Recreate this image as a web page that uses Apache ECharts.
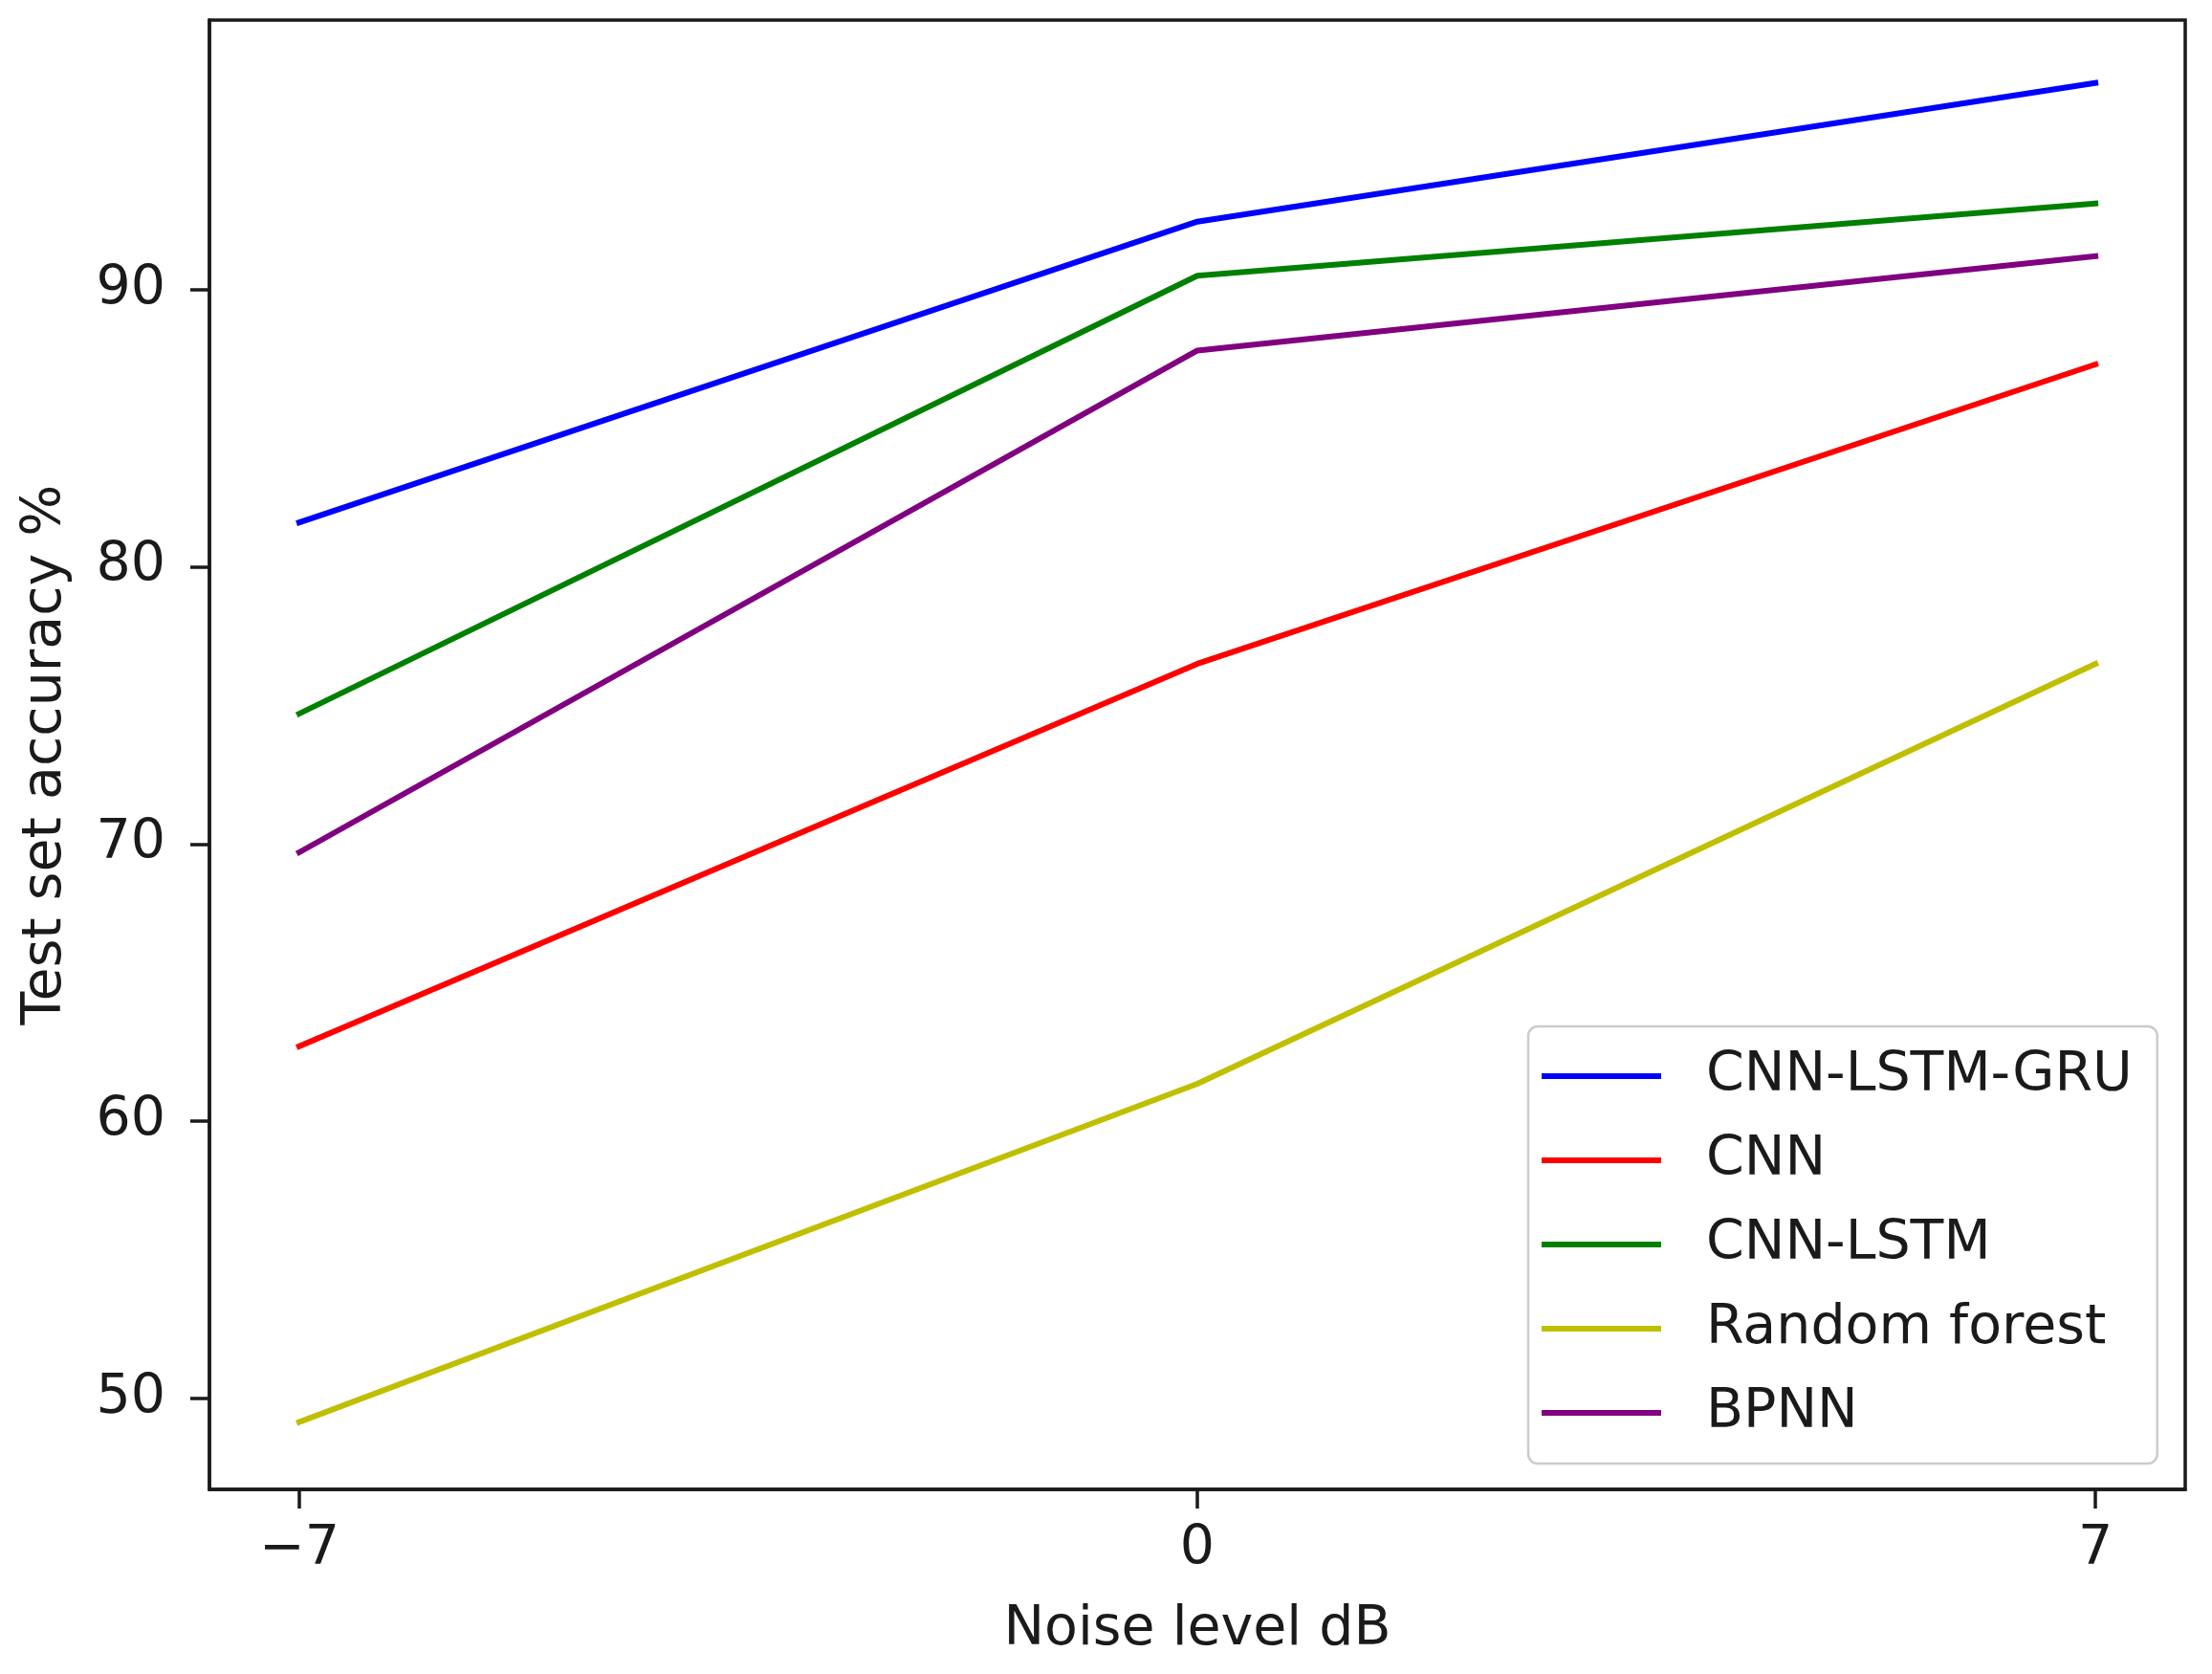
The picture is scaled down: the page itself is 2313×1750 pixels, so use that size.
<!DOCTYPE html>
<html>
<head>
<meta charset="utf-8">
<script src="https://cdn.jsdelivr.net/npm/echarts@6/dist/echarts.min.js"></script>
<style>
html,body{margin:0;padding:0;background:#fff;}
#chart{width:2313px;height:1750px;}
</style>
</head>
<body>
<div id="chart"></div>
<script>
const noiseLevels = [-7, 0, 7];
const xTicks = [-7, 0, 7];
const yTicks = [50, 60, 70, 80, 90];
const seriesNames = ['CNN-LSTM-GRU', 'CNN', 'CNN-LSTM', 'Random forest', 'BPNN'];
const cnnLstmGru = [81.6, 92.45, 97.45];
const cnn = [62.7, 76.5, 87.3];
const cnnLstm = [74.7, 90.5, 93.1];
const randomForest = [49.15, 61.35, 76.5];
const bpnn = [69.7, 87.8, 91.2];
const seriesColors = ['#0000ff', '#ff0000', '#008000', '#bfbf00', '#800080'];
const seriesValues = [cnnLstmGru, cnn, cnnLstm, randomForest, bpnn];

const FONT = 'DejaVu Sans';
const chart = echarts.init(document.getElementById('chart'), null, {renderer: 'canvas'});

const series = seriesNames.map((name, i) => ({
  name: name,
  type: 'line',
  symbol: 'none',
  data: noiseLevels.map((x, j) => [x, seriesValues[i][j]]),
  lineStyle: {color: seriesColors[i], width: 6, cap: 'square'},
  itemStyle: {color: seriesColors[i]},
  emphasis: {disabled: true},
  animation: false
}));

const minusFmt = v => (v < 0 ? '\u2212' + Math.abs(v) : String(v));

chart.setOption({
  animation: false,
  backgroundColor: '#ffffff',
  grid: {
    left: 219, right: 28, top: 21, bottom: 193,
    show: true, borderColor: '#1a1a1a', borderWidth: 3.5, backgroundColor: 'transparent'
  },
  xAxis: {
    type: 'value', min: -7.7, max: 7.7,
    name: 'Noise level dB', nameLocation: 'middle', nameGap: 119,
    nameTextStyle: {fontFamily: FONT, fontSize: 57, color: '#1a1a1a'},
    axisLine: {show: true, onZero: false, lineStyle: {color: '#1a1a1a', width: 3.5}},
    axisTick: {show: true, customValues: xTicks, length: 20, lineStyle: {color: '#1a1a1a', width: 3.5}},
    axisLabel: {customValues: xTicks, formatter: minusFmt, fontFamily: FONT, fontSize: 57, color: '#1a1a1a', margin: 35},
    splitLine: {show: false}
  },
  yAxis: {
    type: 'value', min: 46.72, max: 99.72,
    name: 'Test set accuracy %', nameLocation: 'middle', nameGap: 142, nameRotate: 90,
    nameTextStyle: {fontFamily: FONT, fontSize: 57, color: '#1a1a1a'},
    axisLine: {show: true, onZero: false, lineStyle: {color: '#1a1a1a', width: 3.5}},
    axisTick: {show: true, customValues: yTicks, length: 20, lineStyle: {color: '#1a1a1a', width: 3.5}},
    axisLabel: {customValues: yTicks, fontFamily: FONT, fontSize: 57, color: '#1a1a1a', margin: 46},
    splitLine: {show: false}
  },
  legend: {
    show: true,
    orient: 'vertical',
    left: 1598, top: 1073,
    padding: [23, 26, 24, 14],
    itemGap: 30,
    itemWidth: 125, itemHeight: 6,
    icon: 'rect',
    borderColor: '#cccccc', borderWidth: 2.5, borderRadius: 10,
    backgroundColor: 'rgba(255,255,255,0.8)',
    textStyle: {fontFamily: FONT, fontSize: 57, color: '#1a1a1a', lineHeight: 58, padding: [0, 0, 0, 42]},
    data: seriesNames.map((n, i) => ({name: n, itemStyle: {color: seriesColors[i]}}))
  },
  series: series
});
</script>
</body>
</html>
